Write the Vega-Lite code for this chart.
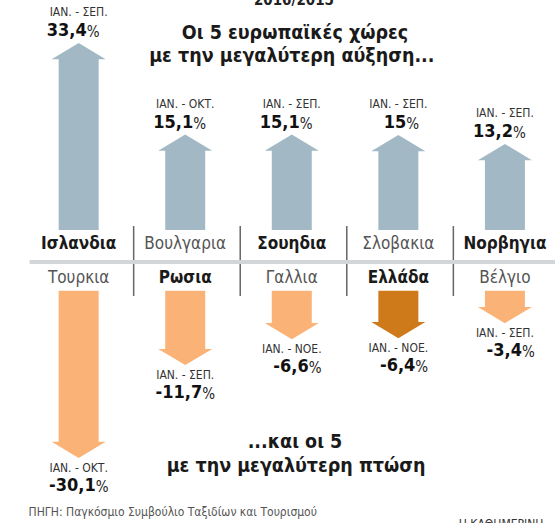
{
  "$schema": "https://vega.github.io/schema/vega-lite/v6.json",
  "width": 560,
  "height": 523,
  "autosize": {"type": "none"},
  "padding": 0,
  "background": "white",
  "config": {"view": {"stroke": null}, "font": "DejaVu Sans Condensed"},
  "datasets": {
    "rise": [
      {"rank": 1, "country": "Ισλανδια", "period": "ΙΑΝ. - ΣΕΠ.", "change": 33.4},
      {"rank": 2, "country": "Βουλγαρια", "period": "ΙΑΝ. - ΟΚΤ.", "change": 15.1},
      {"rank": 3, "country": "Σουηδια", "period": "ΙΑΝ. - ΣΕΠ.", "change": 15.1},
      {"rank": 4, "country": "Σλοβακια", "period": "ΙΑΝ. - ΣΕΠ.", "change": 15},
      {"rank": 5, "country": "Νορβηγια", "period": "ΙΑΝ. - ΣΕΠ.", "change": 13.2}
    ],
    "fall": [
      {"rank": 1, "country": "Τουρκια", "period": "ΙΑΝ. - ΟΚΤ.", "change": -30.1},
      {"rank": 2, "country": "Ρωσια", "period": "ΙΑΝ. - ΣΕΠ.", "change": -11.7},
      {"rank": 3, "country": "Γαλλια", "period": "ΙΑΝ. - ΝΟΕ.", "change": -6.6},
      {"rank": 4, "country": "Ελλάδα", "period": "ΙΑΝ. - ΝΟΕ.", "change": -6.4},
      {"rank": 5, "country": "Βέλγιο", "period": "ΙΑΝ. - ΣΕΠ.", "change": -3.4}
    ],
    "notes": [
      {"t": "2016/2015", "kind": "year"},
      {"t": "Οι 5 ευρωπαϊκές  χώρες", "kind": "title1"},
      {"t": "με την μεγαλύτερη αύξηση...", "kind": "title2"},
      {"t": "...και οι 5", "kind": "sub1"},
      {"t": "με την μεγαλύτερη πτώση", "kind": "sub2"},
      {"t": "ΠΗΓΗ: Παγκόσμιο Συμβούλιο Ταξιδίων και Τουρισμού", "kind": "source"},
      {"t": "Η ΚΑΘΗΜΕΡΙΝΗ", "kind": "brand"}
    ]
  },
  "layer": [
    {
      "layer": [
        {"data": {"name": "rise"}, "mark": {"type": "bar", "width": 40, "yOffset": 15, "color": "#a2b9c5"},
         "encoding": {
           "x": {"field": "rank", "type": "quantitative", "scale": {"domain": [0.3088, 5.47], "nice": false, "zero": false}, "axis": null},
           "y": {"field": "change", "type": "quantitative", "scale": {"domain": [-62.6, 42], "nice": false, "zero": false}, "axis": null},
           "y2": {"datum": -4}}},
        {"data": {"name": "rise"}, "mark": {"type": "point", "shape": "M0,0L-1,0.6L1,0.6Z", "filled": true, "size": 2916, "opacity": 1, "color": "#a2b9c5", "strokeWidth": 0},
         "encoding": {"x": {"field": "rank", "type": "quantitative"}, "y": {"field": "change", "type": "quantitative"}}},
        {"data": {"name": "rise"}, "mark": {"type": "text", "align": "center", "baseline": "middle", "dy": -31, "fontSize": 12, "color": "#333"},
         "encoding": {"x": {"field": "rank", "type": "quantitative"}, "y": {"field": "change", "type": "quantitative"}, "text": {"field": "period"}}},
        {"data": {"name": "rise"}, "transform": [{"calculate": "replace(toString(datum.change), '.', ',')", "as": "num"}], "mark": {"type": "text", "align": "right", "baseline": "middle", "dy": -12, "dx": 8, "fontSize": 18, "fontWeight": "bold", "color": "#111"},
         "encoding": {"x": {"field": "rank", "type": "quantitative"}, "y": {"field": "change", "type": "quantitative"}, "text": {"field": "num"}}},
        {"data": {"name": "rise"}, "mark": {"type": "text", "align": "left", "baseline": "middle", "dy": -11, "dx": 8, "fontSize": 15, "color": "#222"},
         "encoding": {"x": {"field": "rank", "type": "quantitative"}, "y": {"field": "change", "type": "quantitative"}, "text": {"value": "%"}}},
        {"data": {"name": "rise"}, "transform": [{"filter": "datum.rank % 2 === 1"}], "mark": {"type": "text", "align": "center", "baseline": "middle", "fontSize": 17, "fontWeight": "bold", "color": "#1a1a1a"},
         "encoding": {"x": {"field": "rank", "type": "quantitative"}, "y": {"datum": -6.8}, "text": {"field": "country"}}},
        {"data": {"name": "rise"}, "transform": [{"filter": "datum.rank % 2 === 0"}], "mark": {"type": "text", "align": "center", "baseline": "middle", "fontSize": 17, "color": "#555"},
         "encoding": {"x": {"field": "rank", "type": "quantitative"}, "y": {"datum": -6.8}, "text": {"field": "country"}}},
        {"data": {"name": "rise"}, "transform": [{"filter": "datum.rank < 5"}], "mark": {"type": "rule", "color": "#666", "strokeWidth": 1.5, "xOffset": 55},
         "encoding": {"x": {"field": "rank", "type": "quantitative"}, "y": {"datum": -3.2}, "y2": {"datum": -17.2}}},
        {"data": {"name": "notes"}, "transform": [{"filter": "datum.kind === 'year'"}], "mark": {"type": "rule", "color": "#d2d6d9", "strokeWidth": 4},
         "encoding": {"x": {"datum": 0.539}, "x2": {"datum": 5.47}, "y": {"datum": -10.4}}},
        {"data": {"name": "notes"}, "transform": [{"filter": "datum.kind === 'year'"}], "mark": {"type": "text", "align": "center", "baseline": "alphabetic", "fontSize": 15, "fontWeight": "bold", "color": "#222"},
         "encoding": {"x": {"datum": 3.02}, "y": {"datum": 41.0}, "text": {"field": "t"}}},
        {"data": {"name": "notes"}, "transform": [{"filter": "datum.kind === 'title1'"}], "mark": {"type": "text", "align": "center", "baseline": "middle", "fontSize": 19.5, "fontWeight": "bold", "color": "#1a1a1a"},
         "encoding": {"x": {"datum": 3.03}, "y": {"datum": 35.4}, "text": {"field": "t"}}},
        {"data": {"name": "notes"}, "transform": [{"filter": "datum.kind === 'title2'"}], "mark": {"type": "text", "align": "center", "baseline": "middle", "fontSize": 19.5, "fontWeight": "bold", "color": "#1a1a1a"},
         "encoding": {"x": {"datum": 3.0}, "y": {"datum": 30.9}, "text": {"field": "t"}}}
      ]
    },
    {
      "layer": [
        {"data": {"name": "fall"}, "mark": {"type": "bar", "width": 40, "yOffset": -15},
         "encoding": {
           "x": {"field": "rank", "type": "quantitative"},
           "y": {"field": "change", "type": "quantitative", "scale": {"domain": [-42.97, 60.59], "nice": false, "zero": false}, "axis": null},
           "y2": {"datum": 3},
           "color": {"condition": {"test": "datum.country === 'Ελλάδα'", "value": "#cf7a1a"}, "value": "#fbb276"}}},
        {"data": {"name": "fall"}, "mark": {"type": "point", "shape": "M0,0L-1,-0.6L1,-0.6Z", "filled": true, "size": 2916, "opacity": 1, "strokeWidth": 0},
         "encoding": {"x": {"field": "rank", "type": "quantitative"}, "y": {"field": "change", "type": "quantitative"},
           "color": {"condition": {"test": "datum.country === 'Ελλάδα'", "value": "#cf7a1a"}, "value": "#fbb276"}}},
        {"data": {"name": "fall"}, "mark": {"type": "text", "align": "center", "baseline": "middle", "dy": 10, "fontSize": 12, "color": "#333"},
         "encoding": {"x": {"field": "rank", "type": "quantitative"}, "y": {"field": "change", "type": "quantitative"}, "text": {"field": "period"}}},
        {"data": {"name": "fall"}, "transform": [{"calculate": "replace(toString(datum.change), '.', ',')", "as": "num"}], "mark": {"type": "text", "align": "right", "baseline": "middle", "dy": 28, "dx": 17, "fontSize": 18, "fontWeight": "bold", "color": "#111"},
         "encoding": {"x": {"field": "rank", "type": "quantitative"}, "y": {"field": "change", "type": "quantitative"}, "text": {"field": "num"}}},
        {"data": {"name": "fall"}, "mark": {"type": "text", "align": "left", "baseline": "middle", "dy": 29, "dx": 17, "fontSize": 15, "color": "#222"},
         "encoding": {"x": {"field": "rank", "type": "quantitative"}, "y": {"field": "change", "type": "quantitative"}, "text": {"value": "%"}}},
        {"data": {"name": "fall"}, "transform": [{"filter": "datum.rank % 2 === 0"}], "mark": {"type": "text", "align": "center", "baseline": "middle", "fontSize": 17, "fontWeight": "bold", "color": "#1a1a1a"},
         "encoding": {"x": {"field": "rank", "type": "quantitative"}, "y": {"datum": 5.54}, "text": {"field": "country"}}},
        {"data": {"name": "fall"}, "transform": [{"filter": "datum.rank % 2 === 1"}], "mark": {"type": "text", "align": "center", "baseline": "middle", "fontSize": 17, "color": "#555"},
         "encoding": {"x": {"field": "rank", "type": "quantitative"}, "y": {"datum": 5.54}, "text": {"field": "country"}}},
        {"data": {"name": "notes"}, "transform": [{"filter": "datum.kind === 'sub1'"}], "mark": {"type": "text", "align": "center", "baseline": "middle", "fontSize": 19.5, "fontWeight": "bold", "color": "#1a1a1a"},
         "encoding": {"x": {"datum": 3.03}, "y": {"datum": -26.93}, "text": {"field": "t"}}},
        {"data": {"name": "notes"}, "transform": [{"filter": "datum.kind === 'sub2'"}], "mark": {"type": "text", "align": "center", "baseline": "middle", "fontSize": 19.5, "fontWeight": "bold", "color": "#1a1a1a"},
         "encoding": {"x": {"datum": 3.04}, "y": {"datum": -31.6}, "text": {"field": "t"}}},
        {"data": {"name": "notes"}, "transform": [{"filter": "datum.kind === 'source'"}], "mark": {"type": "text", "align": "left", "baseline": "middle", "fontSize": 12, "color": "#555"},
         "encoding": {"x": {"datum": 0.53}, "y": {"datum": -40.8}, "text": {"field": "t"}}},
        {"data": {"name": "notes"}, "transform": [{"filter": "datum.kind === 'brand'"}], "mark": {"type": "text", "align": "left", "baseline": "top", "fontSize": 12, "color": "#333"},
         "encoding": {"x": {"datum": 4.567}, "y": {"datum": -42.18}, "text": {"field": "t"}}}
      ]
    }
  ],
  "resolve": {"scale": {"y": "independent"}}
}
